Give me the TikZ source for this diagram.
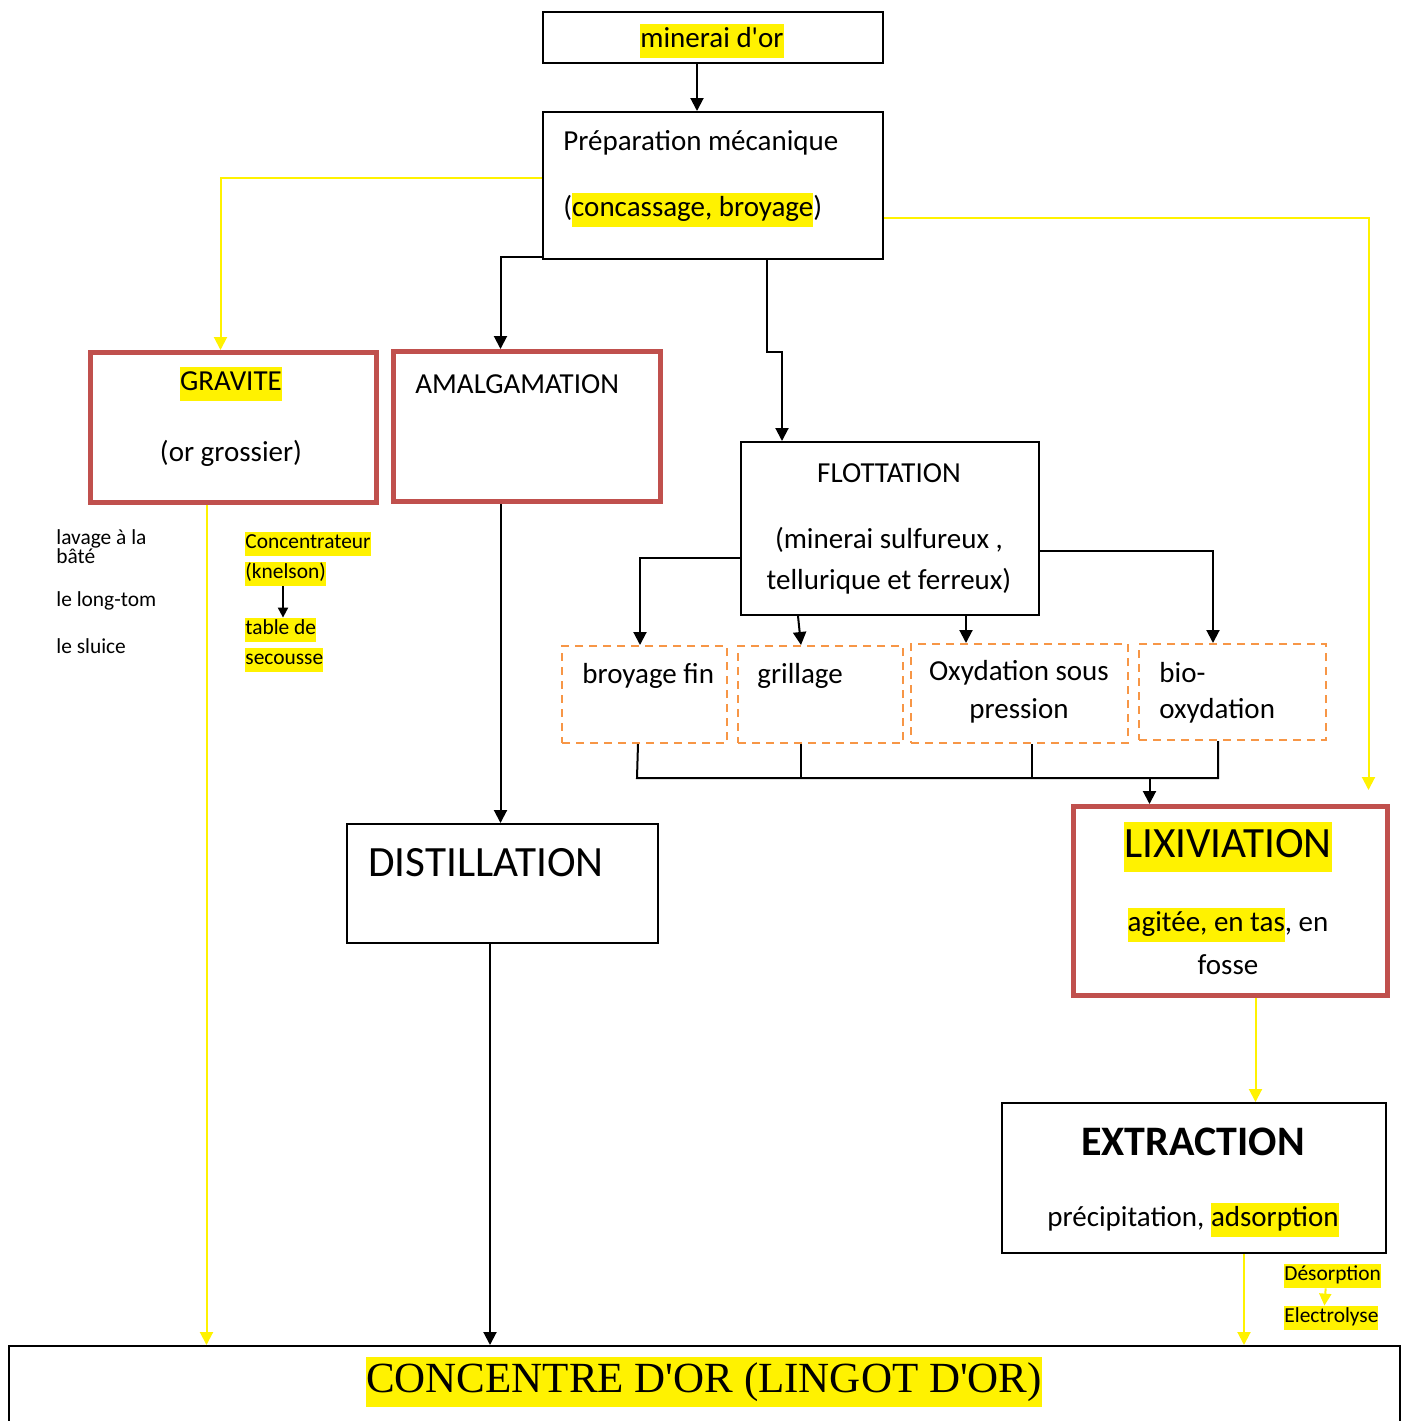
\documentclass[tikz,border=0pt]{standalone}
\usepackage{fontspec}
\setmainfont{Carlito}
\newfontfamily\titlefont{Liberation Serif}
\usetikzlibrary{arrows.meta}
\definecolor{boxred}{RGB}{192,80,77}
\definecolor{dashorange}{RGB}{247,150,70}
\newcommand\hl[1]{{\setlength{\fboxsep}{0pt}\colorbox{yellow}{\strut #1}}}
\newcommand\ap{\textquotesingle}

\begin{document}
\begin{tikzpicture}[x=0.5pt,y=-0.5pt,
  box/.style={draw,line width=1pt,anchor=north west,inner sep=0pt},
  redbox/.style={draw=boxred,line width=2.5pt,anchor=north west,inner sep=0pt},
  dbox/.style={draw=dashorange,line width=1pt,dash pattern=on 4pt off 3pt,anchor=north west,inner sep=0pt},
  txt/.style={inner sep=0pt,font=\fontsize{14.5}{17}\selectfont},
  big/.style={inner sep=0pt,font=\fontsize{21.6}{25}\selectfont},
  small/.style={inner sep=0pt,anchor=west,font=\fontsize{10.7}{12}\selectfont},
  arr/.style={-{Triangle[length=6.5pt,width=6.5pt]},line width=1pt},
  yarr/.style={-{Triangle[length=6.5pt,width=6.5pt]},line width=1pt,draw=yellow}]
\useasboundingbox (0,0) rectangle (1407,1421);

\node[box,minimum width=170pt,minimum height=25.5pt] (ore) at (542,11) {};
\node[box,minimum width=170pt,minimum height=73.5pt] (prep) at (542,111) {};
\node[redbox,minimum width=143pt,minimum height=75pt] (gravite) at (88,350) {};
\node[redbox,minimum width=133.5pt,minimum height=75pt] (amalg) at (391,349) {};
\node[box,minimum width=149pt,minimum height=86.5pt] (flott) at (740,441) {};
\node[dbox,minimum width=82.5pt,minimum height=48.5pt] (broy) at (561,645) {};
\node[dbox,minimum width=82.5pt,minimum height=48.5pt] (grill) at (737,645) {};
\node[dbox,minimum width=108.5pt,minimum height=49.5pt] (oxy) at (910,643) {};
\node[dbox,minimum width=93.5pt,minimum height=48pt] (bio) at (1138,643) {};
\node[box,minimum width=155.5pt,minimum height=59.5pt] (distil) at (346,823) {};
\node[redbox,minimum width=157pt,minimum height=94.5pt] (lix) at (1071,804) {};
\node[box,minimum width=192pt,minimum height=75pt] (extr) at (1001,1102) {};
\node[box,minimum width=695.5pt,minimum height=50pt] (conc) at (8,1345) {};

\node[txt] (oret) at (712,41) {\hl{minerai d\ap or}};
\node[txt,anchor=west] (prept) at (563,143) {Préparation mécanique};
\node[txt,anchor=west] (prepc) at (563,210) {(\hl{concassage, broyage})};
\node[txt] (gravt) at (231,384) {\hl{GRAVITE}};
\node[txt] (gravc) at (231,453) {(or grossier)};
\node[txt,anchor=west] (amalgt) at (415,384) {AMALGAMATION};
\node[txt] (flottt) at (889,473) {FLOTTATION};
\node[txt] (flottc) at (889,540) {(minerai sulfureux ,};
\node[txt] (flottd) at (889,581) {tellurique et ferreux)};
\node[txt,anchor=west] (broyt) at (582,676) {broyage fin};
\node[txt,anchor=west] (grillt) at (757,676) {grillage};
\node[txt] (oxyt) at (1019,673) {Oxydation sous};
\node[txt] (oxyc) at (1019,711) {pression};
\node[txt,anchor=west] (biot) at (1159,673) {bio-};
\node[txt,anchor=west] (bioc) at (1159,711) {oxydation};
\node[big,anchor=west] (distilt) at (368,863) {DISTILLATION};
\node[big] (lixt) at (1228,847) {\hl{LIXIVIATION}};
\node[txt] (lixc) at (1228,925) {\hl{agitée, en tas}, en};
\node[txt] (lixd) at (1228,965) {fosse};
\node[big,font=\fontsize{21}{25}\selectfont\bfseries] (extrt) at (1193,1142) {EXTRACTION};
\node[txt] (extrc) at (1193,1220) {précipitation, \hl{adsorption}};
\node[inner sep=0pt,font=\titlefont\fontsize{21.5}{25}\selectfont] (conct) at (704,1382) {\hl{CONCENTRE D\ap OR (LINGOT D\ap OR)}};

\node[small,align=left,font=\fontsize{10.7}{9.5}\selectfont] (lavage) at (56,547) {lavage à la\\bâté};
\node[small] (longtom) at (56,601) {le long-tom};
\node[small] (sluice) at (56,646) {le sluice};
\node[small] (knel) at (245,544) {\hl{Concentrateur}};
\node[small] (knelb) at (245,574) {\hl{(knelson)}};
\node[small] (table) at (245,630) {\hl{table de}};
\node[small] (tableb) at (245,660) {\hl{secousse}};
\node[small] (desorp) at (1284,1276) {\hl{Désorption}};
\node[small] (electro) at (1284,1318) {\hl{Electrolyse}};

\draw[arr] ([xshift=-8pt]ore.south) -- ([xshift=-8pt]prep.north);
\draw[yarr] ([yshift=3.75pt]prep.west) -| ([xshift=-6.5pt]gravite.north);
\draw[yarr] ([yshift=-16.25pt]prep.east) -| ([xshift=69pt,yshift=7pt]lix.north);
\draw[arr] ([yshift=-35.75pt]prep.west) -| ([xshift=-13.25pt]amalg.north);
\draw[arr] ([xshift=27pt]prep.south) -- ++(0,92) -| ([xshift=-54pt]flott.north);
\draw[yarr] ([xshift=-13.5pt]gravite.south) -- ([xshift=-13.5pt]gravite.south |- conc.north);
\draw[arr] ([xshift=-13.25pt]amalg.south) -- ([xshift=-13.25pt]amalg.south |- distil.north);
\draw[arr] ([xshift=-6.25pt]distil.south) -- ([xshift=-6.25pt]distil.south |- conc.north);
\draw[arr] ([yshift=-14.75pt]flott.west) -| ([xshift=-2.25pt]broy.north);
\draw[arr] ([xshift=-46pt]flott.south) -- ([xshift=-9.75pt]grill.north);
\draw[arr] ([xshift=-26.75pt]oxy.north |- flott.south) -- ([xshift=-26.75pt]oxy.north);
\draw[arr] ([yshift=-11.25pt]flott.east) -| ([xshift=-9.75pt]bio.north);
\coordinate (bus) at (637,778);
\draw[line width=1pt] ([xshift=-3.25pt]broy.south) -- (bus) -| ([xshift=-7.25pt]bio.south);
\draw[line width=1pt] ([xshift=-9.75pt]grill.south) -- ([xshift=-9.75pt]grill.south |- bus);
\draw[line width=1pt] ([xshift=6.25pt]oxy.south) -- ([xshift=6.25pt]oxy.south |- bus);
\draw[arr] ([xshift=-40.5pt]lix.north |- bus) -- ([xshift=-40.5pt]lix.north);
\draw[yarr] ([xshift=12.5pt]lix.south) -- ([xshift=12.5pt]lix.south |- extr.north);
\draw[yarr] ([xshift=25pt]extr.south) -- ([xshift=25pt]extr.south |- conc.north);
\draw[arr,-{Triangle[length=5pt,width=5pt]}] (knelb.south -| 283,0) -- (table.north -| 283,0);
\draw[yarr,-{Triangle[length=6pt,width=6pt]}] ([xshift=-3.5pt]desorp.south) -- ([xshift=-3.5pt]electro.north);
\end{tikzpicture}
\end{document}
